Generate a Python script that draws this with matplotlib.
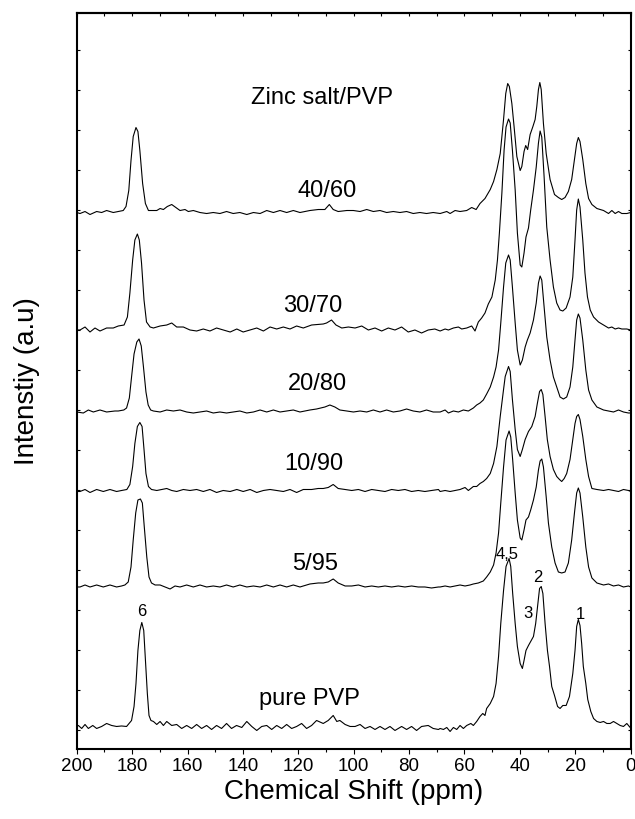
"""Stacked 13C CP-MAS NMR spectra of PVP and zinc salt/PVP blends."""

import matplotlib

matplotlib.use("Agg")

import matplotlib.pyplot as plt
from matplotlib.ticker import MultipleLocator, NullFormatter

plt.rcParams["font.family"] = ["Liberation Sans", "DejaVu Sans"]

# Each spectrum: (ppm, intensity above its own baseline).
PURE_PVP = [
    (200, 1), (199.4, 2), (198.2, -1), (197, 3), (195.8, -1), (194.2, 2), (192.8, -1),
    (191, 1), (189.2, 4), (187.4, 2), (185.6, 1), (183.8, 1.5),
    (182, 1), (180.2, 7), (179.3, 21), (178.6, 44), (177.9, 77), (177.2, 97),
    (176.5, 105), (175.8, 97), (175.1, 64), (174.5, 34), (173.9, 12), (173.2, 7),
    (172.3, 6), (171.1, 3), (169.9, 6), (168.7, 2),
    (167.5, 6), (165.7, 2), (163.9, 3), (162.1, -1), (160.3, 2), (158.5, -1), (156.7, 3),
    (154.9, -1), (153.1, 2), (151.3, -2), (149.5, 2), (147.7, -1), (145.9, 4), (144.1, -1),
    (142.3, 2), (140.4, 0), (138.6, 6), (136.8, 1), (135, -3), (133.2, 1), (131.4, 2),
    (129.6, -2), (127.8, 2), (126, -1), (124.2, 3), (122.4, -1), (120.6, 1), (118.8, 4),
    (117, -1), (115.2, 2), (113.4, 7), (111, 4), (109.2, 7), (107.4, 12), (106.1, 6),
    (105, 7), (103.1, 3), (101.3, 1), (99.5, 1), (97.7, 3), (95.9, -1), (94.1, 1),
    (92.3, -2), (90.5, 1), (88.7, -2), (86.9, 1), (85.1, -3), (82.7, 1), (80.9, -2),
    (79.1, 1), (77.3, -3), (75.5, 1), (73.1, 2), (71.3, -1), (69.4, -2),
    (68.8, -1), (67.6, -2), (66.4, 0), (65.2, -4), (64.0, 0), (62.8, -2), (61.6, 2),
    (60.4, -1), (59.2, 2), (57.7, 4), (56.8, 2), (55.6, 6), (54.4, 11), (53.4, 14),
    (52.6, 12), (52.0, 19), (50.7, 24), (49.5, 31), (48.6, 44), (47.7, 71), (46.9, 104),
    (45.9, 137), (45.0, 161), (43.9, 169), (43.3, 161), (42.6, 134), (41.7, 104),
    (40.9, 81), (39.9, 64), (39.1, 59), (38.5, 67), (37.8, 77), (36.9, 82), (36.1, 86),
    (35.1, 91), (34.3, 104), (33.5, 124), (32.9, 139), (32.3, 141), (31.7, 134),
    (30.9, 104), (30.05, 77), (29.3, 61), (28.5, 41), (27.5, 32), (26.4, 21), (25.5, 19),
    (24.5, 22), (23.3, 22), (22.1, 31), (20.9, 54), (20.1, 77), (19.5, 101), (18.9, 108),
    (18.3, 102), (17.7, 84), (17.1, 61), (16.2, 44), (15.5, 28), (14.4, 16), (13.4, 9),
    (12.2, 6), (11.0, 5), (9.8, 6), (8.6, 4), (7.4, 4), (6.2, 6), (5.0, 4), (3.8, 2),
    (2.6, 1), (1.4, 4), (0.2, 0), (0, 2),
]

BLEND_5_95 = [
    (200, 0), (198.8, 0), (197, 2), (195.2, 0), (192.8, 2), (190.4, 0), (188, 2),
    (185.6, 0), (183.8, 1),
    (182.6, 2), (181.4, 5), (180.4, 20), (179.6, 47), (178.7, 74), (177.9, 87), (177, 88),
    (176.3, 84), (175.6, 60), (174.7, 30), (173.9, 10), (173, 4), (171.7, 2),
    (169.9, 2), (168.1, 0), (166.3, -2), (164.5, 1), (162.7, 0), (160.3, 2), (157.9, 0),
    (155.5, 2), (153.1, 0), (150.7, 1), (148.3, 0), (145.9, 2), (143.5, 0), (141.1, 2),
    (138.6, 0), (136.2, 1), (133.8, 0), (131.4, 2), (129, 0), (126.6, 2), (124.2, 0),
    (121.8, 2), (119.4, 0), (115.8, 3), (112.8, 4), (111, 4), (109.2, 5), (107.4, 8),
    (105.6, 4), (103.1, 1), (100.7, 1), (98.3, 2), (95.9, 0), (93.5, 1), (91.1, 0),
    (88.7, 1), (86.3, 0), (83.9, 1), (81.5, 0), (79.1, 1), (76.7, 0), (74.3, 0),
    (71.9, -1), (69.4, 0),
    (68.8, 0), (67.0, 1), (65.2, 0), (63.4, 1), (61.6, 2), (59.8, 1), (58.0, 2),
    (56.8, 3), (55.0, 4), (53.2, 6), (52.0, 10), (50.7, 15), (49.5, 22), (48.6, 34),
    (47.7, 54), (46.9, 84), (45.9, 120), (45.0, 147), (43.9, 156), (43.3, 150),
    (42.6, 127), (41.7, 94), (40.9, 67), (39.9, 49), (39.3, 47), (38.5, 57), (37.8, 67),
    (36.9, 70), (36.1, 77), (35.1, 87), (34.1, 100), (33.3, 117), (32.7, 126),
    (32.1, 128), (31.5, 120), (30.5, 90), (29.7, 64), (28.5, 40), (27.3, 24), (26.1, 15),
    (24.9, 14), (23.7, 15), (22.5, 24), (21.3, 47), (20.3, 74), (19.5, 94), (18.9, 99),
    (18.3, 94), (17.3, 70), (16.2, 40), (15.2, 20), (14.0, 9), (12.2, 4), (9.8, 2),
    (8.0, 3), (6.2, 1), (4.4, 2), (2.6, 0), (0.8, 1), (0, 0),
]

BLEND_10_90 = [
    (200, 0), (198.8, 0), (197, 2), (195.2, -1), (192.8, 2), (190.4, 0), (188, 2),
    (185.6, 0), (183.8, 1),
    (181.9, 2), (180.8, 7), (179.8, 25), (179, 48), (178.1, 65), (177.2, 69), (176.4, 65),
    (175.7, 42), (175, 18), (174.1, 5), (173, 2), (171.1, 1),
    (169.3, 2), (167.5, 3), (165.7, 1), (163.9, 0), (161.5, 2), (159.1, 1), (156.7, 2),
    (154.3, 0), (151.9, 2), (149.5, -1), (147.1, 1), (144.6, 0), (142.2, 2), (139.9, 0),
    (137.4, 2), (135, -1), (132.6, 1), (130.2, 2), (127.8, 1), (125.4, 0), (123, 2),
    (120.6, -1), (118.2, 2), (115.2, 2), (112.8, 3), (111, 3), (109.2, 4), (107.4, 7),
    (105.6, 3), (103.1, 2), (100.7, 1), (98.3, 2), (95.9, 0), (93.5, 2), (91.1, 1),
    (88.7, 0), (86.3, 2), (83.9, 1), (81.5, 2), (79.1, 0), (76.7, 1), (74.3, 0),
    (71.9, 1), (69.4, 2),
    (68.8, 0), (67.0, 1), (65.2, 0), (63.4, 1), (61.6, 2), (59.8, 4), (58.6, 1),
    (57.7, 3), (56.8, 5), (55.6, 5), (54.4, 8), (53.2, 10), (52.0, 13), (50.7, 18),
    (49.5, 28), (48.3, 45), (47.1, 75), (45.9, 102), (45.3, 115), (44.1, 125),
    (43.5, 120), (42.7, 92), (41.7, 62), (40.9, 42), (39.9, 35), (39.1, 42), (38.1, 52),
    (36.9, 60), (35.7, 65), (34.5, 75), (33.7, 88), (32.9, 100), (32.3, 102),
    (31.7, 97), (30.9, 75), (30.1, 52), (29.1, 35), (27.9, 22), (26.7, 15), (25.7, 12),
    (24.9, 10), (24.0, 13), (23.1, 18), (21.9, 32), (20.9, 52), (20.1, 68), (19.5, 75),
    (18.9, 77), (18.3, 72), (17.3, 55), (16.2, 32), (15.2, 15), (14.0, 3), (12.2, 2),
    (9.8, 1), (8.0, 2), (6.2, 1), (4.4, 0), (2.6, 2), (0.8, 1), (0, 0),
]

BLEND_20_80 = [
    (200, 0), (197.6, -1), (195.8, 2), (194, 0), (191.6, 2), (189.2, 0), (186.2, 1),
    (185, 1),
    (183, 2), (182, 4), (181, 14), (180.2, 35), (179.3, 58), (178.3, 70), (177.5, 73),
    (176.7, 66), (175.9, 45), (175, 20), (174.2, 7), (173.3, 2), (172.3, 1),
    (169.9, 0), (167.5, 2), (165.1, 1), (162.7, 2), (160.3, 0), (157.9, -1), (155.5, 0),
    (153.1, 1), (150.7, -1), (148.3, 0), (145.9, -1), (143.5, 0), (141.1, 1), (138.6, -1),
    (136.2, 0), (133.8, 2), (131.4, 0), (129, 2), (126.6, 0), (124.2, 1), (121.8, 2),
    (119.4, 0), (115.8, 2), (113.4, 3), (110.4, 5), (108.6, 7), (106.8, 5), (105, 2),
    (102.5, 1), (100.1, 0), (97.7, 1), (95.3, 0), (92.9, 2), (90.5, 0), (88.1, 2),
    (85.7, 0), (83.3, 1), (80.9, 3), (78.5, 1), (76.1, 0), (73.7, 2), (71.3, 0),
    (68.8, 0), (67.0, 2), (65.8, -1), (64.0, 1), (62.2, 0), (60.4, 2), (58.6, 1),
    (56.8, 4), (55.6, 7), (54.4, 9), (53.2, 12), (52.0, 18), (50.7, 25), (49.5, 35),
    (48.6, 45), (47.7, 62), (46.9, 89), (45.9, 125), (45.1, 149), (44.1, 157),
    (43.5, 152), (42.7, 125), (41.7, 89), (40.9, 62), (39.9, 47), (39.1, 52), (38.1, 65),
    (37.3, 72), (36.3, 79), (35.1, 92), (34.1, 109), (33.3, 129), (32.7, 136),
    (32.1, 132), (31.25, 105), (30.3, 75), (29.1, 52), (27.9, 35), (26.7, 25),
    (25.5, 15), (24.3, 13), (23.1, 15), (21.9, 25), (20.9, 45), (20.1, 72), (19.5, 92),
    (18.9, 98), (18.3, 94), (17.3, 72), (16.2, 42), (15.2, 22), (14.0, 12), (12.2, 5),
    (9.8, 2), (8.0, 1), (6.2, 0), (4.4, 2), (2.6, 0), (0.8, -1), (0, -1),
]

BLEND_30_70 = [
    (200, 0), (198.8, 0), (197, 3), (195.2, -2), (193.4, 2), (191.6, -1), (189.2, 2),
    (186.8, 2), (185, 4), (182.9, 5), (181.7, 13), (180.8, 37), (179.8, 70), (179, 90),
    (178.1, 96), (177.4, 90), (176.6, 67), (175.7, 30), (174.8, 8), (173.5, 3),
    (172.3, 2), (169.9, 4), (167.5, 5), (165.7, 7), (163.9, 3), (161.5, 3),
    (159.1, 0), (156.7, -1), (154.3, 1), (151.9, -1), (149.5, 2), (147.1, 0), (144.6, -2),
    (142.2, 1), (139.9, -2), (137.4, 0), (135, 2), (132.6, -1), (130.2, 3), (127.8, 1),
    (125.4, 3), (123, 1), (120.6, 4), (118.2, 2), (115.2, 5), (111, 6), (109.8, 7),
    (108, 10), (106.4, 5), (104.3, 2), (101.9, 3), (99.5, 2), (97.1, 4), (94.7, 0),
    (92.3, 2), (89.9, -1), (87.5, 2), (85.1, 0), (82.7, 3), (80.3, -2), (77.9, 0),
    (75.5, -3), (73.1, 0), (70.7, 1),
    (68.8, -1), (67.0, 1), (65.8, 0), (64.0, 2), (62.2, 3), (61.0, 1), (59.2, 2),
    (57.4, 4), (56.2, -1), (55.0, 8), (53.8, 12), (52.6, 17), (51.4, 26), (50.1, 33),
    (48.9, 50), (48.1, 70), (47.4, 97), (46.5, 137), (45.7, 180), (45.0, 203),
    (44.1, 211), (43.5, 207), (42.7, 180), (41.7, 140), (40.9, 97), (39.9, 65),
    (39.3, 63), (38.5, 77), (37.8, 93), (36.9, 102), (36.1, 120), (35.1, 140),
    (34.1, 163), (33.3, 187), (32.7, 199), (32.1, 193), (31.25, 153), (30.3, 103),
    (29.1, 70), (27.9, 43), (26.7, 27), (25.5, 20), (24.5, 19), (23.3, 22), (21.9, 33),
    (20.9, 53), (20.1, 90), (19.5, 120), (18.9, 131), (18.3, 123), (17.3, 90),
    (16.5, 57), (15.6, 33), (14.6, 20), (13.4, 13), (11.6, 8), (9.8, 5), (8.0, 2),
    (6.8, 3), (5.6, 1), (4.4, 2), (3.2, 1), (1.4, 1), (0, 0),
]

BLEND_40_60 = [
    (200, 0), (198.8, -1), (197.0, 1), (195.2, -2), (192.8, 1), (191.0, 0), (189.2, 2),
    (186.8, 0),
    (185.0, 1), (183.2, 2), (182.2, 6), (181.2, 22), (180.4, 52), (179.6, 76),
    (178.6, 85), (177.9, 81), (177.2, 62), (176.2, 29), (175.2, 9), (174.1, 2),
    (173.0, 2), (171.1, 2), (169.9, 4), (168.7, 3), (167.3, 6), (165.7, 8), (164.2, 5),
    (162.7, 2),
    (160.9, 3), (159.7, 1), (157.9, 2), (155.5, 0), (153.1, -1), (150.7, 0), (148.3, -1),
    (145.9, 1), (143.5, -1), (141.1, 0), (138.6, -2), (136.2, 0), (133.8, -1), (131.4, 2),
    (129.0, 0), (126.6, 2), (124.2, 0), (121.8, 2), (119.4, 0), (115.8, 2), (112.8, 3),
    (110.4, 3), (108.8, 8), (107.4, 3), (105.6, 1), (102.5, 2), (100.1, 2), (97.7, 1),
    (95.3, 3), (92.9, 1), (90.5, 2), (88.1, 0), (85.7, 1), (83.3, 0), (80.9, 1),
    (78.5, -1), (76.1, 0), (73.7, -1), (71.3, 0),
    (68.8, -1), (66.4, 1), (65.2, -1), (63.4, 2), (61.6, 1), (59.2, 2), (57.4, 5),
    (55.8, 3), (54.4, 9), (52.6, 14), (50.7, 23), (49.5, 31), (48.3, 43), (47.1, 59),
    (45.9, 93), (45.1, 119), (44.4, 129), (43.8, 126), (42.9, 109), (42.1, 86),
    (41.1, 56), (39.9, 42), (39.3, 46), (38.5, 61), (37.9, 67), (37.2, 63), (36.3, 78),
    (35.3, 86), (34.5, 93), (33.9, 106), (33.3, 123), (32.8, 130), (32.3, 123),
    (31.5, 89), (30.5, 59), (29.1, 33), (27.5, 18), (26.1, 15), (24.9, 13), (23.7, 15),
    (22.5, 21), (21.3, 33), (20.3, 53), (19.5, 69), (18.9, 75), (18.3, 71), (17.3, 53),
    (16.2, 29), (15.2, 14), (14.0, 8), (12.2, 4), (9.8, 2), (8.0, -1), (6.8, 2),
    (5.6, -1), (4.4, 1), (3.2, -1), (1.4, -1), (0, 0),
]

SPECTRA = [PURE_PVP, BLEND_5_95, BLEND_10_90, BLEND_20_80, BLEND_30_70, BLEND_40_60]
OFFSETS = [2.5, 143, 238.5, 318, 400, 517.5]

SAMPLE_LABELS = ["pure PVP", "5/95", "10/90", "20/80", "30/70", "40/60", "Zinc salt/PVP"]
PEAK_LABELS = ["6", "4,5", "3", "2", "1"]


def main():
    fig = plt.figure(figsize=(6.35, 8.19), dpi=100)
    ax = fig.add_axes([0.1208, 0.0855, 0.8724, 0.8986])

    for spec, off in zip(SPECTRA, OFFSETS):
        ppm, inten = zip(*spec)
        ax.plot(ppm, [v + off for v in inten], color="black", linewidth=0.8)

    ax.set_xlim(200, 0)
    ax.set_ylim(-19, 717)

    # sample names and peak assignments
    sample_pos = [(116.1, 25), (113.8, 160), (114.3, 260), (113.2, 340),
                  (114.7, 418), (109.6, 533), (111.3, 626)]
    for text, (x, y) in zip(SAMPLE_LABELS, sample_pos):
        ax.text(x, y, text, ha="center", va="baseline", fontsize=17)
    peak_pos = [(176.4, 114), (44.6, 171), (37.1, 112), (33.5, 148), (18.3, 111)]
    for text, (x, y) in zip(PEAK_LABELS, peak_pos):
        ax.text(x, y, text, ha="center", va="baseline", fontsize=12)

    ax.xaxis.set_major_locator(MultipleLocator(20))
    ax.xaxis.set_minor_locator(MultipleLocator(10))
    ax.tick_params(axis="x", which="major", direction="out", length=3.5, width=0.8,
                   labelsize=13.5, pad=3)
    ax.tick_params(axis="x", which="minor", direction="out", length=2.5, width=0.8)

    ax.yaxis.set_major_locator(MultipleLocator(40))
    ax.yaxis.set_major_formatter(NullFormatter())
    ax.tick_params(axis="y", which="both", direction="in", length=2.5, width=0.8,
                   left=True, right=True)

    top = ax.secondary_xaxis("top")
    top.xaxis.set_major_locator(MultipleLocator(10))
    top.xaxis.set_major_formatter(NullFormatter())
    top.tick_params(direction="in", length=2.5, width=0.8)

    for side in ("left", "right", "top", "bottom"):
        ax.spines[side].set_linewidth(1.5)
    top.spines["top"].set_linewidth(1.5)

    ax.set_xlabel("Chemical Shift (ppm)", fontsize=20, labelpad=3)
    ax.set_ylabel("Intenstiy (a.u)", fontsize=20, labelpad=23)

    fig.savefig("out.png", dpi=100)


if __name__ == "__main__":
    main()
